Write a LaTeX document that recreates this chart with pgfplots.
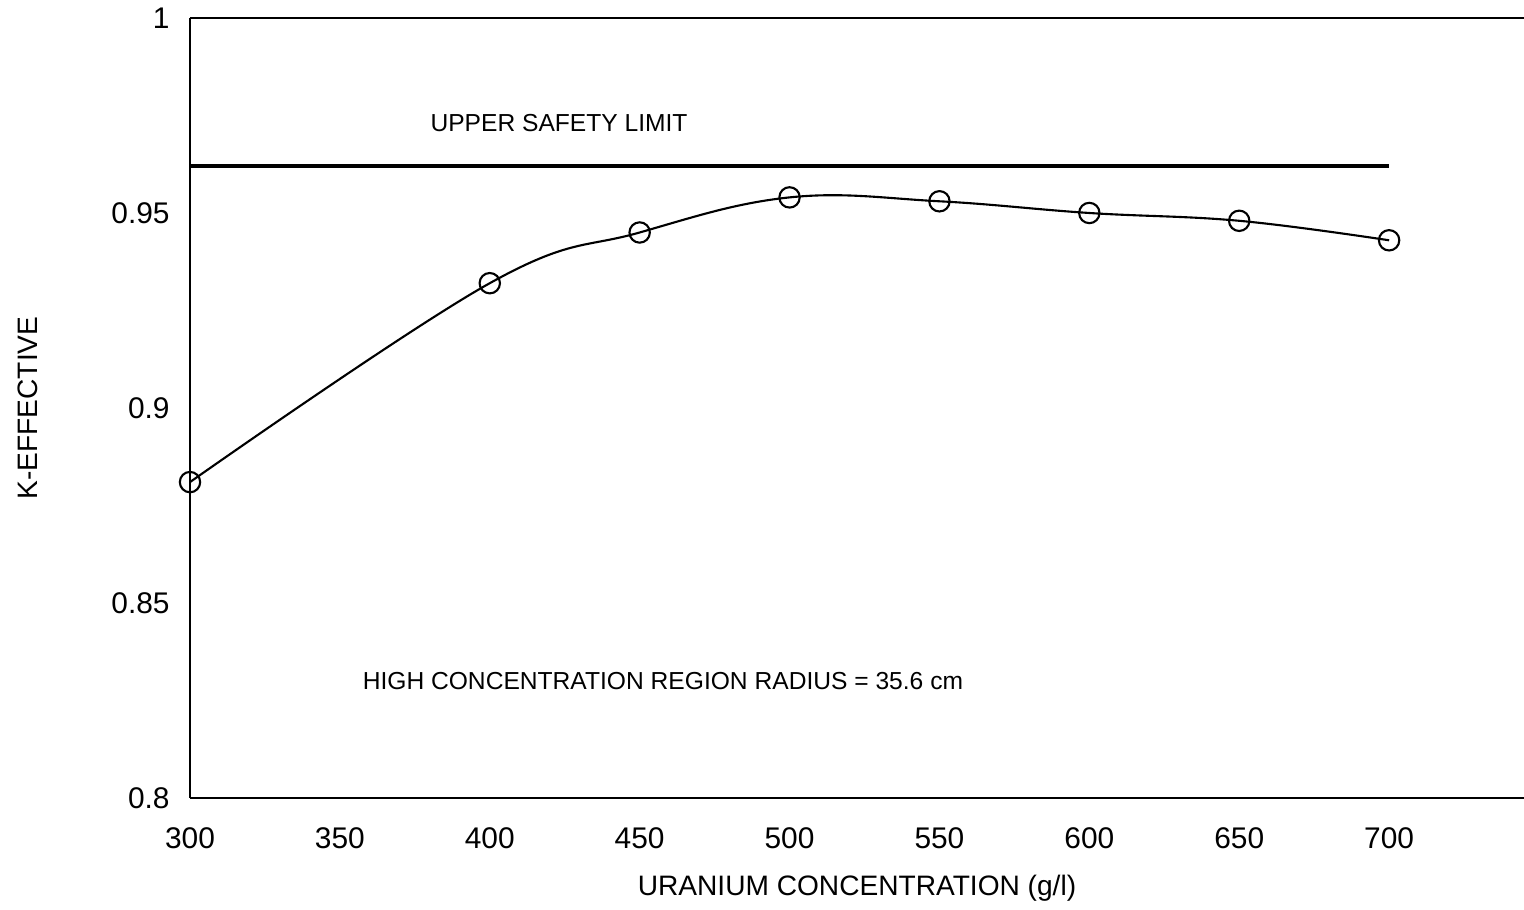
\documentclass[border=0pt]{standalone}
\usepackage{fontspec}
\setmainfont{Liberation Sans}
\usepackage{pgfplots}
\pgfplotsset{compat=1.18}
\begin{document}
\begin{tikzpicture}
\begin{axis}[
    scale only axis, width=13.34cm, height=7.8cm,
    xmin=300, xmax=745, ymin=0.8, ymax=1,
    axis x line=box, axis y line=left,
    axis line style={line width=0.8pt, -},
    xtick={300,350,...,700}, ytick={0.8,0.85,0.9,0.95,1},
    major tick length=0pt,
    tick label style={font=\fontsize{8.5}{10}\selectfont},
    /pgf/number format/assume math mode=true,
    xticklabel style={yshift=-0.17cm},
    yticklabel style={xshift=-0.08cm},
    xlabel={URANIUM CONCENTRATION (g/l)},
    ylabel={K-EFFECTIVE},
    label style={font=\fontsize{8}{10}\selectfont},
    xlabel style={at={(axis description cs:0.5,0)}, yshift=-0.9cm, anchor=center},
    ylabel style={at={(axis description cs:-0.1214,0.5)}, anchor=center},
    clip=false,
]
\addplot[black, line width=1.1pt] coordinates {(300,0.962) (700,0.962)};
\addplot[black, smooth, tension=0.65, line width=0.6pt, mark=o, mark size=2.9pt,
         mark options={line width=0.6pt}] coordinates {
    (300,0.881) (400,0.932) (450,0.945) (500,0.954)
    (550,0.953) (600,0.950) (650,0.948) (700,0.943)};
\node[anchor=west, inner sep=0, font=\fontsize{7}{8}\selectfont]
    at (axis cs:380,0.973) {UPPER SAFETY LIMIT};
\node[anchor=west, inner sep=0, font=\fontsize{7}{8}\selectfont]
    at (axis cs:357.4,0.830) {HIGH CONCENTRATION REGION RADIUS = 35.6 cm};
\end{axis}
\pgfresetboundingbox
\path[use as bounding box] (-1.9cm,-1.12cm) rectangle (13.34cm,7.98cm);
\end{tikzpicture}
\end{document}
